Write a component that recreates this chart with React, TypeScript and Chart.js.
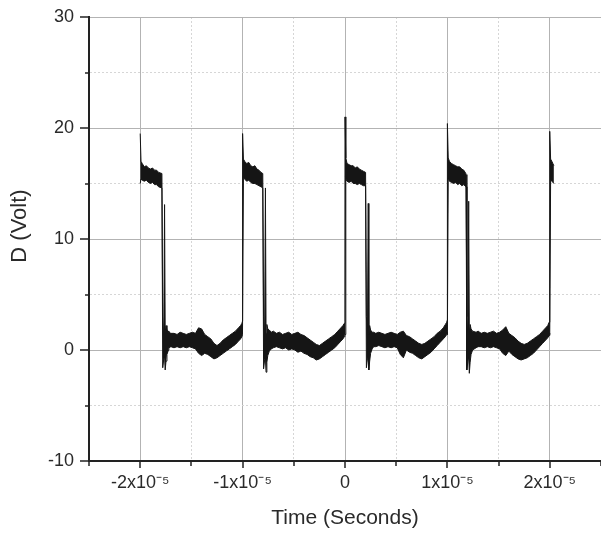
import React, { useEffect, useRef } from "react";
import { Chart, registerables } from "chart.js";

Chart.register(...registerables);

// ---- Data (time in units of 1e-5 s, voltage in V) ----
const EDGES = [-2, -1, 0, 1]; // rising edges of full periods
const FALLS = [-1.78, -0.795, 0.209, 1.19]; // falling edges of those periods
const LAST_EDGE = 2;

// sample offsets of the high phase (relative to rising edge)
const HIGH_OFF = [0, 0.008, 0.02, 0.04, 0.06, 0.08, 0.1, 0.12, 0.14, 0.16, 0.18];
// sample offsets around the falling edge (relative to falling edge)
const FALL_OFF = [-0.008, 0, 0.01, 0.018, 0.024, 0.032, 0.041, 0.056];
// sample offsets of the low phase (relative to rising edge)
const LOW_OFF = [
  0.28, 0.3, 0.33, 0.36, 0.39, 0.42, 0.45, 0.48, 0.51, 0.54, 0.57, 0.6, 0.63, 0.66,
  0.69, 0.72, 0.75, 0.78, 0.81, 0.84, 0.87, 0.9, 0.93, 0.96, 0.98, 0.993, 0.999,
];

// upper / lower envelope of the noisy trace, per period
const UPPER_A = [19.5, 17.0, 16.8, 16.5, 16.6, 16.4, 16.3, 16.4, 16.2, 16.2, 16.0,
  15.9, 3.0, 1.0, 13.1, 1.6, 2.2, 1.8, 1.7,
  1.6, 1.5, 1.5, 1.4, 1.6, 1.5, 1.4, 1.5, 1.6, 1.5, 2.0, 1.9, 1.4, 1.2, 1.0, 0.6, 0.4, 0.6, 0.9, 1.1, 1.3, 1.5, 1.7, 2.0, 2.2, 2.4, 2.6];
const LOWER_A = [15.0, 15.4, 15.3, 15.2, 15.3, 15.1, 15.0, 15.1, 14.9, 14.9, 14.7,
  14.6, -1.6, -0.8, -0.6, -1.8, -1.0, -0.4, 0.0,
  0.2, 0.3, 0.2, 0.3, 0.2, 0.3, 0.2, 0.3, 0.2, 0.1, -0.3, -0.5, -0.3, -0.4, -0.6, -0.8, -0.7, -0.5, -0.3, -0.1, 0.1, 0.3, 0.5, 0.8, 1.0, 1.2, 1.4];

const UPPER_B = [19.5, 17.2, 17.0, 16.8, 16.9, 16.6, 16.5, 16.6, 16.3, 16.2, 16.0,
  15.9, 3.0, 1.2, 14.6, 1.5, 2.3, 1.9, 1.8,
  1.6, 1.7, 1.5, 1.6, 1.4, 1.5, 1.6, 1.4, 1.5, 1.6, 1.4, 1.3, 1.1, 0.9, 0.7, 0.5, 0.4, 0.6, 0.8, 1.0, 1.2, 1.4, 1.7, 2.0, 2.2, 2.4, 2.6];
const LOWER_B = [1.4, 15.6, 15.4, 15.2, 15.3, 15.1, 15.0, 15.0, 14.9, 14.8, 14.7,
  14.6, -1.7, -0.9, -0.7, -2.0, -1.1, -0.5, -0.1,
  0.1, 0.2, 0.3, 0.2, 0.1, 0.2, 0.0, 0.1, 0.0, -0.2, -0.1, -0.3, -0.4, -0.6, -0.7, -0.9, -0.8, -0.6, -0.4, -0.2, 0.0, 0.2, 0.5, 0.8, 1.0, 1.2, 1.4];

const UPPER_C = [21.0, 17.3, 16.8, 16.7, 16.6, 16.6, 16.4, 16.5, 16.3, 16.2, 16.1,
  16.0, 3.0, 1.0, 13.2, 1.4, 2.2, 1.8, 1.6,
  1.6, 1.5, 1.6, 1.5, 1.4, 1.5, 1.6, 1.5, 1.4, 1.6, 1.7, 1.3, 1.2, 1.0, 0.8, 0.6, 0.5, 0.6, 0.8, 1.0, 1.2, 1.5, 1.7, 2.0, 2.3, 2.5, 2.7];
const LOWER_C = [1.4, 15.4, 15.2, 15.1, 15.2, 15.0, 15.0, 14.9, 15.0, 14.9, 14.8,
  14.8, -1.6, -0.8, -0.6, -1.8, -1.0, -0.3, 0.1,
  0.3, 0.3, 0.4, 0.3, 0.2, 0.3, 0.2, 0.3, 0.2, -0.4, -0.7, 0.0, -0.2, -0.3, -0.5, -0.7, -0.8, -0.6, -0.4, -0.2, 0.1, 0.4, 0.7, 1.0, 1.2, 1.4, 1.6];

const UPPER_D = [20.4, 17.3, 17.0, 16.8, 16.7, 16.6, 16.5, 16.5, 16.3, 16.2, 15.9,
  15.8, 3.0, 1.0, 13.4, 1.5, 2.3, 1.9, 1.7,
  1.6, 1.7, 1.5, 1.6, 1.5, 1.6, 1.7, 1.5, 1.6, 1.8, 2.1, 1.5, 1.3, 1.1, 0.8, 0.6, 0.5, 0.6, 0.8, 1.0, 1.2, 1.4, 1.7, 2.0, 2.2, 2.5, 2.7];
const LOWER_D = [1.4, 15.5, 15.2, 15.1, 15.0, 15.1, 14.9, 15.0, 14.8, 14.9, 14.7,
  14.7, -1.8, -1.0, -0.6, -2.1, -1.1, -0.4, 0.0,
  0.2, 0.3, 0.3, 0.2, 0.3, 0.2, 0.3, 0.2, 0.1, -0.3, -0.5, -0.1, -0.4, -0.6, -0.8, -0.9, -0.8, -0.7, -0.5, -0.3, 0.0, 0.3, 0.6, 0.9, 1.1, 1.3, 1.5];

// last partial period (trace ends shortly after the edge at 2x10^-5)
const LAST_OFF = [0, 0.008, 0.02, 0.03, 0.04];
const LAST_UPPER = [19.7, 17.2, 17.0, 16.8, 16.6];
const LAST_LOWER = [1.4, 15.4, 15.2, 15.1, 15.0];

const UPPERS = [UPPER_A, UPPER_B, UPPER_C, UPPER_D];
const LOWERS = [LOWER_A, LOWER_B, LOWER_C, LOWER_D];

const X_TICK_VALUES = [-2, -1, 0, 1, 2];
const X_TICK_LABELS = ["-2x10\u207B\u2075", "-1x10\u207B\u2075", "0", "1x10\u207B\u2075", "2x10\u207B\u2075"];
const Y_TICK_VALUES = [-10, 0, 10, 20, 30];
const Y_TICK_LABELS = ["-10", "0", "10", "20", "30"];
const X_TITLE = "Time (Seconds)";
const Y_TITLE = "D (Volt)";
const UNIT = 1e-5;

function buildTrace(envs: number[][], last: number[]) {
  const pts: { x: number; y: number }[] = [];
  EDGES.forEach((edge, k) => {
    const v = envs[k];
    HIGH_OFF.forEach((o, i) => pts.push({ x: (edge + o) * UNIT, y: v[i] }));
    FALL_OFF.forEach((o, i) =>
      pts.push({ x: (FALLS[k] + o) * UNIT, y: v[HIGH_OFF.length + i] })
    );
    LOW_OFF.forEach((o, i) =>
      pts.push({ x: (edge + o) * UNIT, y: v[HIGH_OFF.length + FALL_OFF.length + i] })
    );
  });
  LAST_OFF.forEach((o, i) => pts.push({ x: (LAST_EDGE + o) * UNIT, y: last[i] }));
  return pts;
}

function xLabel(value: number) {
  const i = X_TICK_VALUES.findIndex((v) => Math.abs(v * UNIT - value) < UNIT * 1e-3);
  return i >= 0 ? X_TICK_LABELS[i] : "";
}
function yLabel(value: number) {
  const i = Y_TICK_VALUES.findIndex((v) => Math.abs(v - value) < 1e-6);
  return i >= 0 ? Y_TICK_LABELS[i] : "";
}

const FONT = "'Liberation Sans', Arial, sans-serif";

const decorPlugin = {
  id: "decor",
  afterDraw(chart: any) {
    const { ctx, chartArea, scales } = chart;
    const xs = scales.x;
    const ys = scales.y;
    ctx.save();
    ctx.strokeStyle = "#222";
    ctx.lineWidth = 1.5;
    xs.ticks.forEach((t: any) => {
      const px = Math.round(xs.getPixelForValue(t.value));
      const len = xLabel(t.value) ? 7 : 5;
      ctx.beginPath();
      ctx.moveTo(px, chartArea.bottom);
      ctx.lineTo(px, chartArea.bottom + len);
      ctx.stroke();
    });
    ys.ticks.forEach((t: any) => {
      const py = Math.round(ys.getPixelForValue(t.value));
      const len = yLabel(t.value) ? 9 : 4;
      ctx.beginPath();
      ctx.moveTo(chartArea.left, py);
      ctx.lineTo(chartArea.left - len, py);
      ctx.stroke();
    });
    // y-axis title
    ctx.translate(19.5, 226);
    ctx.rotate(-Math.PI / 2);
    ctx.fillStyle = "#2a2a2a";
    ctx.font = `22px ${FONT}`;
    ctx.textAlign = "center";
    ctx.textBaseline = "middle";
    ctx.fillText(Y_TITLE, 0, 0);
    ctx.restore();
  },
};

function noPad(s: any) {
  s.paddingTop = 0;
  s.paddingBottom = 0;
  s.paddingLeft = 0;
  s.paddingRight = 0;
}

export default function App() {
  const ref = useRef<HTMLCanvasElement>(null);

  useEffect(() => {
    if (!ref.current) return;
    const chart = new Chart(ref.current, {
      type: "line",
      data: {
        datasets: [
          {
            data: buildTrace(UPPERS, LAST_UPPER),
            borderColor: "#151515",
            backgroundColor: "#151515",
            borderWidth: 1,
            pointRadius: 0,
            tension: 0,
            fill: "+1",
          },
          {
            data: buildTrace(LOWERS, LAST_LOWER),
            borderColor: "#151515",
            backgroundColor: "#151515",
            borderWidth: 1,
            pointRadius: 0,
            tension: 0,
            fill: false,
          },
        ],
      },
      options: {
        animation: false,
        responsive: false,
        layout: { padding: { top: 17, left: 0, right: 0, bottom: 0 } },
        plugins: { legend: { display: false }, tooltip: { enabled: false } },
        scales: {
          x: {
            type: "linear",
            min: -2.5 * UNIT,
            max: 2.5 * UNIT,
            afterFit: (s: any) => {
              s.height = 78;
              noPad(s);
            },
            ticks: {
              stepSize: 0.5 * UNIT,
              autoSkip: false,
              maxRotation: 0,
              padding: 11,
              color: "#2a2a2a",
              font: { family: FONT, size: 18 },
              callback: (v: any) => xLabel(Number(v)),
            },
            grid: {
              drawTicks: false,
              color: (c: any) => (xLabel(c.tick?.value) ? "#b3b3b3" : "#d6d6d6"),
              lineWidth: 1,
            },
            border: {
              display: true,
              color: "#222",
              width: 2,
              dash: (c: any) => (xLabel(c.tick?.value) ? [] : [2, 2]),
            },
            title: {
              display: true,
              text: X_TITLE,
              color: "#2a2a2a",
              font: { family: FONT, size: 21 },
              padding: { top: 0, bottom: 8 },
            },
          },
          y: {
            type: "linear",
            min: -10,
            max: 30,
            afterFit: (s: any) => {
              s.width = 89;
              noPad(s);
            },
            ticks: {
              stepSize: 5,
              autoSkip: false,
              padding: 15,
              color: "#2a2a2a",
              font: { family: FONT, size: 18 },
              callback: (v: any) => yLabel(Number(v)),
            },
            grid: {
              drawTicks: false,
              color: (c: any) => (yLabel(c.tick?.value) ? "#b3b3b3" : "#d6d6d6"),
              lineWidth: 1,
            },
            border: {
              display: true,
              color: "#222",
              width: 2,
              dash: (c: any) => (yLabel(c.tick?.value) ? [] : [2, 2]),
            },
          },
        },
      },
      plugins: [decorPlugin],
    } as any);
    return () => chart.destroy();
  }, []);

  return (
    <div style={{ position: "absolute", left: 0, top: 0, width: 601, height: 539, background: "#fff" }}>
      <canvas ref={ref} width={601} height={539} style={{ display: "block" }} />
    </div>
  );
}
